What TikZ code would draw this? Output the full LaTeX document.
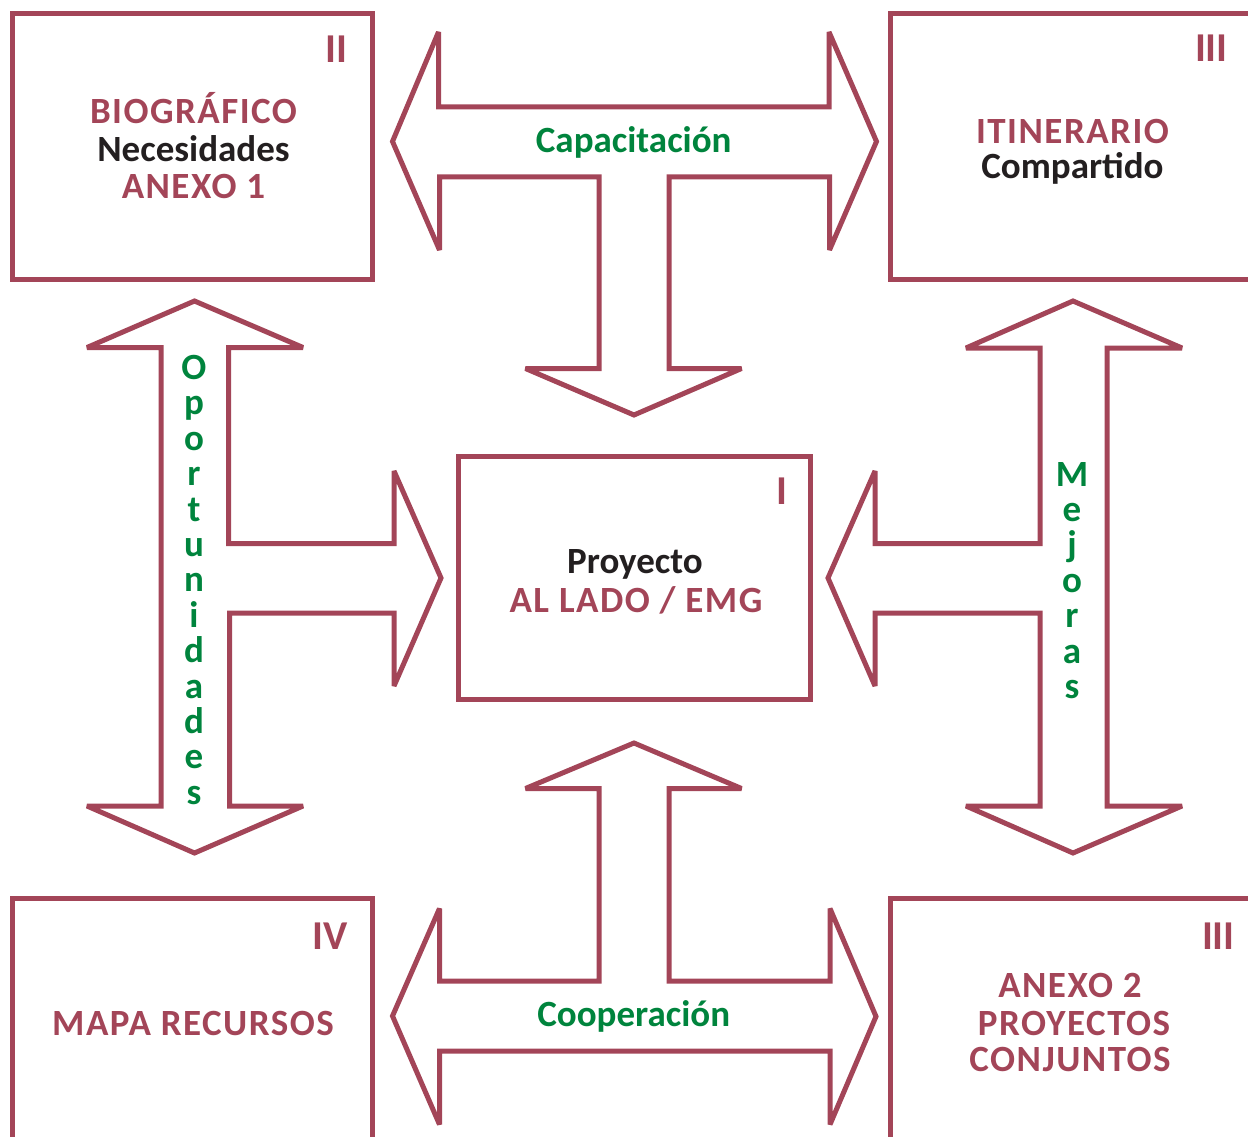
\documentclass[tikz,border=0pt]{standalone}
\usepackage{fontspec}
\setmainfont{Carlito}
\newfontfamily\capsfont[LetterSpace=4]{Carlito}
\definecolor{maroon}{RGB}{163,69,88}
\definecolor{lgreen}{RGB}{0,132,61}
\definecolor{txtblack}{RGB}{35,31,32}
\begin{document}
\begin{tikzpicture}[x=1pt,y=-1pt,
  frame/.style={draw=maroon,line width=5pt,rectangle,inner sep=0pt},
  blockarrow/.style={draw=maroon,line width=5pt,line join=miter,miter limit=4},
  numeral/.style={anchor=north east,inner sep=0pt,text=maroon,font=\fontsize{41}{41}\selectfont\bfseries},
  txt/.style={anchor=base,inner sep=0pt,font=\fontsize{37}{37}\selectfont\bfseries},
  red/.style={anchor=base,inner sep=0pt,text=maroon,font=\capsfont\fontsize{37}{37}\selectfont\bfseries},
  blk/.style={txt,text=txtblack},
  grn/.style={txt,text=lgreen},
]
\path[use as bounding box] (0,0) rectangle (1248,1137);
\clip (0,0) rectangle (1248,1137);

% boxes
\node[frame,minimum width=360pt,minimum height=265.5pt] (boxII) at (192.5,146.75) {};
\node[frame,minimum width=400pt,minimum height=265.5pt] (boxIIIa) at (1090,146.75) {};
\node[frame,minimum width=351.5pt,minimum height=243pt] (boxI) at (634.25,578) {};
\node[frame,minimum width=360pt,minimum height=282pt] (boxIV) at (192.5,1039) {};
\node[frame,minimum width=400pt,minimum height=282pt] (boxIIIb) at (1090,1039) {};

% numerals
\node[numeral] (nII) at (348,36) {II};
\node[numeral] (nIIIa) at (1228,35) {III};
\node[numeral] (nI) at (788,478) {I};
\node[numeral] (nIV) at (348,923) {IV};
\node[numeral] (nIIIb) at (1235,923) {III};

% box texts
\node[red] (t1) at (193.5,123.5) {BIOGRÁFICO};
\node[blk] (t2) at (193.5,161) {Necesidades};
\node[red] (t3) at (193.5,198.5) {ANEXO 1};
\node[red] (t4) at (1072.5,143.5) {ITINERARIO};
\node[blk] (t5) at (1072.5,178.5) {Compartido};
\node[blk] (t6) at (635,573.5) {Proyecto};
\node[red] (t7) at (636,612.5) {AL LADO / EMG};
\node[red] (t8) at (193,1035.5) {MAPA RECURSOS};
\node[red] (t9) at (1070,997.5) {ANEXO 2};
\node[red] (t10) at (1074,1035) {PROYECTOS};
\node[red] (t11) at (1070,1071.5) {CONJUNTOS};

% block arrows
\draw[blockarrow] (392.5,141.5) -- (438.5,32) -- (438.5,107) -- (829,107) -- (829,32)
  -- (876.5,141.5) -- (829.5,250) -- (829.5,177) -- (669,177) -- (669,368.5)
  -- (741.5,368.5) -- (634,415) -- (525.5,368.5) -- (599,368.5) -- (599,177)
  -- (439.5,177) -- (439.5,250) -- cycle;
\draw[blockarrow] (392.5,1016) -- (439.5,908.5) -- (439.5,981) -- (599,981) -- (599,788.5)
  -- (525.5,788.5) -- (634,743) -- (741.5,788.5) -- (669,788.5) -- (669,981)
  -- (830,981) -- (830,908.5) -- (876,1016.5) -- (830,1124.5) -- (830,1051)
  -- (439.5,1051) -- (439.5,1124.5) -- cycle;
\draw[blockarrow] (194.5,301) -- (303,347.5) -- (228.5,347.5) -- (228.5,543.5) -- (394,543.5)
  -- (394,471) -- (441,578) -- (394,686) -- (394,613) -- (229.5,613) -- (229.5,806)
  -- (303,806) -- (194.5,853) -- (87,806) -- (161,806) -- (161,347.5) -- (87,347.5) -- cycle;
\draw[blockarrow] (1073,301) -- (1182,348) -- (1107,348) -- (1107,806) -- (1182,806)
  -- (1073,853) -- (966,806) -- (1040,806) -- (1040,613) -- (875,613) -- (875,686)
  -- (828,578) -- (875,471) -- (875,543.5) -- (1040,543.5) -- (1040,348) -- (966,348) -- cycle;

% arrow labels
\node[grn] (cap) at (633.7,153) {Capacitación};
\node[grn] (coop) at (633.7,1026.5) {Cooperación};
\foreach \ch [count=\i from 0] in {O,p,o,r,t,u,n,i,d,a,d,e,s}
  \node[grn] (op\i) at (194,379.5+\i*35.4) {\ch};
\foreach \ch [count=\i from 0] in {M,e,j,o,r,a,s}
  \node[grn] (me\i) at (1072,486+\i*35.45) {\ch};
\end{tikzpicture}
\end{document}
